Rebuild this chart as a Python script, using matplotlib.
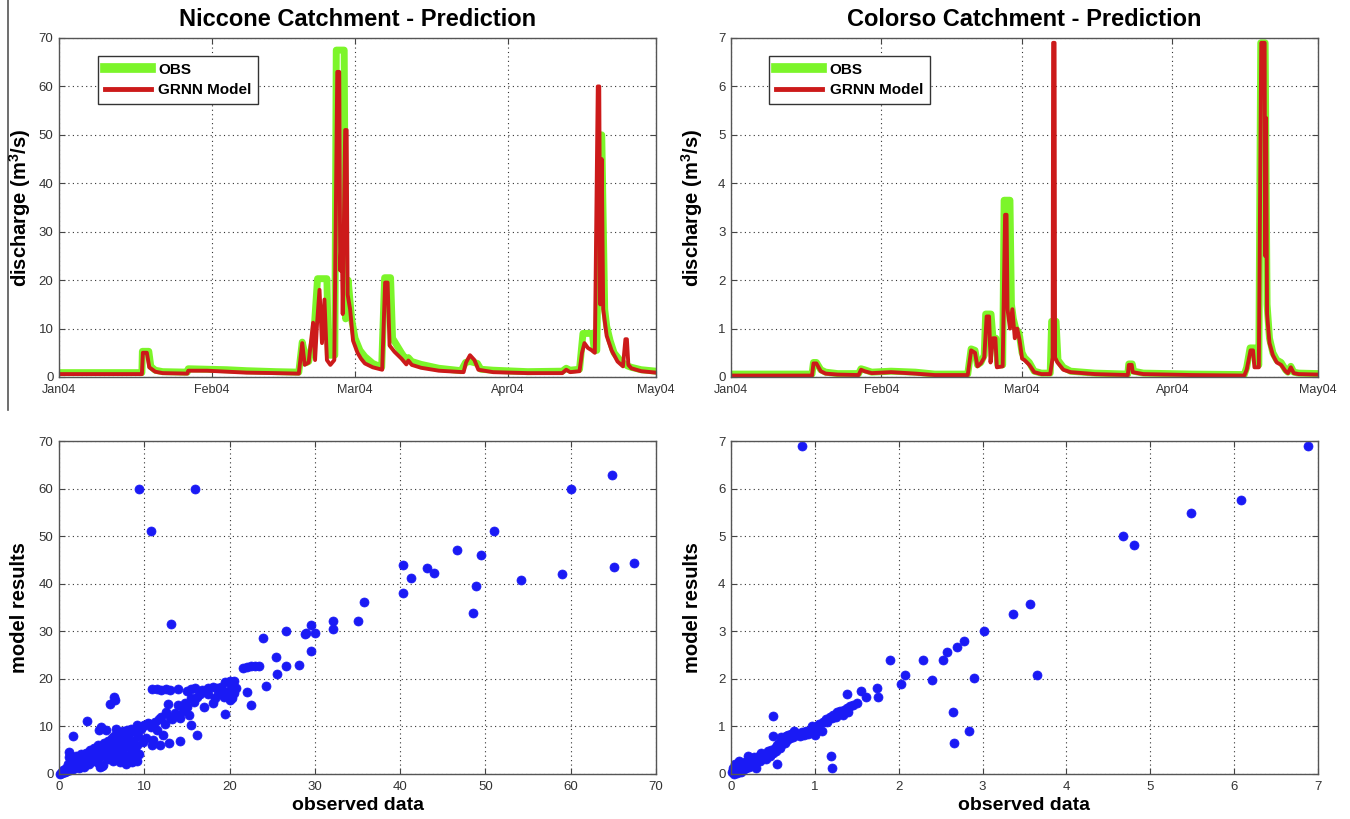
import numpy as np
import matplotlib
matplotlib.use("Agg")
import matplotlib.pyplot as plt
import matplotlib.dates as mdates
from matplotlib.lines import Line2D

plt.rcParams['mathtext.fontset'] = 'custom'
plt.rcParams['mathtext.rm'] = 'Liberation Sans'
plt.rcParams['mathtext.bf'] = 'Liberation Sans:bold'

# ---------------- data ----------------
start_date = '2004-01-01'
month_ticks = ['2004-01-01', '2004-02-01', '2004-03-01', '2004-04-01', '2004-05-01']

# Niccone: day offset from 1 Jan 2004 and discharge (m3/s)
nic_obs_day = [0, 16.8, 16.9, 18.2, 18.6, 19.5, 21, 26.0, 26.2, 30, 34, 38, 44, 48.6, 49.3, 50.2,
               50.6, 51.6, 52.4, 54.3, 54.6, 55.9, 56.2, 57.8, 58.1, 58.6, 59.3, 60, 61, 62, 63.6,
               65.4, 66.0, 67.2, 67.6, 68.5, 69.4, 70.4, 70.8, 71.5, 73.4, 77, 81.5, 82.4, 83.3,
               84.8, 85.5, 88, 95, 102.0, 102.8, 103.6, 105.5, 106.2, 108.1, 108.5, 109.0, 109.6,
               110.0, 110.6, 111.0, 111.7, 112.5, 113.9, 114.8, 115.2, 116, 118, 121]
nic_obs_val = [0.9, 0.9, 5.3, 5.3, 2.2, 1.4, 1.1, 1.0, 1.7, 1.6, 1.5, 1.3, 1.1, 1.0, 7.2, 3.0,
               3.2, 8.0, 20.3, 20.3, 4.5, 4.5, 67.5, 67.5, 12, 20, 12, 8, 5.5, 4.2, 2.8,
               2.0, 20.5, 20.5, 8, 6.5, 5.0, 3.5, 4.0, 3.2, 2.6, 1.8, 1.3, 3.0, 3.2,
               2.8, 1.6, 1.4, 1.1, 1.2, 1.8, 1.4, 1.6, 9.0, 9.0, 5.5, 5.5, 50,
               50, 14, 10.5, 7.5, 5, 3.2, 2.6, 2.3, 2.0, 1.5, 1.2]

nic_mod_day = [0, 16.8, 17.0, 17.8, 18.3, 19.5, 21, 26.0, 26.2, 30, 34, 38, 44, 48.6, 49.3, 49.8,
               50.6, 51.5, 51.9, 52.3, 52.8, 53.3, 53.8, 54.3, 55.0, 55.8, 56.4, 56.8, 57.0, 57.3,
               57.5, 58.0, 58.3, 58.5, 59, 59.6, 60.5, 61.2, 62, 63.6, 65.5, 66.1, 66.6, 67.0, 68,
               69.4, 70.4, 70.8, 71.5, 73.4, 77, 82.0, 82.5, 83.3, 84.2, 85, 88, 95, 102.0, 102.8,
               103.6, 105.5, 106.0, 106.5, 107.2, 108.0, 108.6, 109.2, 109.5, 109.7, 110.0, 110.3,
               111, 112, 113.2, 114.3, 114.8, 115.1, 115.4, 116, 118, 121]
nic_mod_val = [0.6, 0.6, 5.0, 5.0, 2.0, 1.1, 0.8, 0.7, 1.3, 1.3, 1.1, 0.9, 0.8, 0.7, 7.0, 2.5,
               3.0, 11.2, 3.5, 11, 18, 7, 16, 3.5, 2.5, 3.5, 63, 63, 22, 30,
               13, 51, 51, 17, 14, 7.5, 5, 3.8, 2.8, 2.0, 1.5, 19.5, 19.5, 6.5, 5.2,
               3.8, 2.6, 3.4, 2.5, 1.9, 1.3, 1.0, 3.0, 4.5, 3.5, 1.5, 1.0, 0.8, 0.8, 1.5,
               1.0, 1.2, 5.0, 7, 6, 5.5, 5, 60, 60, 15, 45, 14,
               8.5, 5.5, 3.2, 2.2, 7.8, 7.8, 2.5, 1.8, 1.2, 0.9]

# Colorso
col_obs_day = [0, 16.7, 17.0, 17.6, 18.5, 19.5, 22, 26.3, 26.8, 27.5, 29, 33, 38, 42, 48.8, 49.5,
               50.3, 50.8, 51.5, 52.2, 52.5, 53.6, 54.0, 54.6, 55.0, 56.0, 56.3, 57.5, 57.8, 58.2,
               58.7, 59.4, 60.0, 60.5, 61.5, 62.5, 64, 65.8, 66.1, 67.0, 67.4, 68.5, 70, 75, 81.8,
               82.0, 82.7, 83.0, 85, 95, 105.8, 106.3, 107.0, 107.9, 108.2, 108.8, 109.2, 110.1,
               110.5, 111, 111.7, 112.5, 113.4, 114.3, 114.8, 115.4, 116.0, 117, 121]
col_obs_val = [0.06, 0.06, 0.3, 0.3, 0.15, 0.1, 0.07, 0.07, 0.17, 0.15, 0.1, 0.12, 0.1, 0.06, 0.06, 0.58,
               0.55, 0.25, 0.3, 0.45, 1.3, 1.3, 0.8, 0.8, 0.25, 0.25, 3.65, 3.65, 1.5, 1.2,
               1.0, 0.9, 0.5, 0.4, 0.3, 0.12, 0.08, 0.08, 1.15, 1.15, 0.35, 0.2, 0.12, 0.08, 0.06,
               0.27, 0.27, 0.12, 0.08, 0.06, 0.05, 0.2, 0.6, 0.6, 0.3, 0.25, 6.9, 6.9,
               1.5, 0.8, 0.5, 0.35, 0.3, 0.15, 0.1, 0.22, 0.1, 0.08, 0.07]

col_mod_day = [0, 16.7, 17.0, 17.6, 18.5, 19.5, 22, 26.3, 26.8, 27.5, 29, 33, 38, 42, 48.8, 49.5,
               50.3, 50.8, 51.5, 52.2, 52.7, 53.2, 53.5, 54.0, 54.5, 54.8, 56.0, 56.5, 56.8, 57.0,
               57.5, 58.0, 58.5, 59.0, 59.5, 60, 60.5, 61.5, 62.5, 64, 65.8, 66.3, 66.4, 66.7, 66.8,
               67.3, 68.5, 70, 75, 81.8, 82.0, 82.6, 82.8, 85, 95, 105.8, 106.3, 107.1, 107.6,
               107.9, 108.8, 109.3, 110.0, 110.1, 110.3, 110.5, 111, 111.7, 112.5, 113.4, 114.3,
               114.8, 115.4, 116.0, 117, 121]
col_mod_val = [0.03, 0.03, 0.28, 0.28, 0.12, 0.07, 0.05, 0.04, 0.15, 0.12, 0.08, 0.1, 0.07, 0.04, 0.04, 0.55,
               0.5, 0.22, 0.28, 0.4, 1.25, 1.25, 0.3, 0.8, 0.8, 0.2, 0.22, 3.35, 3.35, 1.4,
               1.0, 1.4, 0.8, 1.0, 0.75, 0.38, 0.35, 0.25, 0.1, 0.06, 0.06, 0.4, 6.9, 6.9, 0.4,
               0.3, 0.15, 0.1, 0.06, 0.04, 0.25, 0.25, 0.1, 0.06, 0.04, 0.03, 0.15, 0.55, 0.55,
               0.2, 0.2, 6.9, 6.9, 2.5, 5.35, 1.3, 0.7, 0.45, 0.3, 0.25, 0.12,
               0.08, 0.2, 0.08, 0.06, 0.05]

# Scatter: observed vs model
nic_sc_obs = [0.1, 0.2, 0.3, 0.4, 0.5, 0.6, 0.7, 0.8, 0.9, 1.0, 1.1, 1.2, 1.2, 1.3, 1.4, 1.5, 1.6, 1.7,
              1.8, 2.0, 2.0, 2.2, 2.3, 2.5, 2.6, 2.7, 2.9, 3.0, 3.1, 3.2, 3.4, 3.5, 3.6, 3.8, 3.9,
              4.0, 4.1, 4.2, 4.4, 4.5, 4.6, 4.7, 4.9, 5.0, 5.1, 5.1, 5.3, 5.4, 5.5, 5.6, 5.7, 5.8,
              5.9, 6.0, 6.1, 6.2, 6.3, 6.4, 6.5, 6.6, 6.7, 6.8, 6.9, 7.0, 7.1, 7.2, 7.3, 7.4, 7.5,
              7.5, 7.6, 7.7, 7.8, 7.9, 8.0, 8.0, 8.1, 8.2, 8.3, 8.4, 8.5, 8.5, 8.6, 8.7, 8.8, 8.9,
              9.0, 9.1, 9.2, 9.2, 9.3, 9.4, 9.6, 9.8, 9.8, 10.0, 10.2, 10.4, 10.5, 10.8, 11.0, 11.2,
              11.5, 11.7, 12.0, 12.2, 12.4, 12.6, 12.8, 13.0, 13.3, 13.6, 14.0, 14.2, 14.5, 14.8,
              15.0, 15.3, 15.5, 15.8, 16.2, 16.5, 17.0, 17.5, 18.0, 18.3, 18.6, 19.0, 19.3, 19.7,
              20.0, 20.3, 20.5, 20.7,
              10.9, 11.5, 12.0, 12.5, 13.0, 14.0, 15.0, 15.5, 16.0, 16.8, 17.5, 18.0, 18.5, 19.0,
              19.5, 20.0, 20.5, 19.2, 20.2,
              21.6, 22.0, 22.5, 23.0, 23.5,
              9.4, 16.0, 10.8, 13.1, 60.0, 64.8, 51.0, 46.7, 49.5, 40.3, 43.2, 44.0, 41.3, 40.3,
              48.9, 48.6, 54.2, 59.0, 65.1, 67.4, 35.8, 35.1, 32.1, 32.1, 29.6, 30.0, 29.0, 28.8,
              29.5, 26.6, 23.9, 25.4, 26.6, 28.1, 25.6, 24.3, 22.1, 22.5, 19.5, 16.2, 15.5, 14.2,
              12.9, 11.8, 10.9, 3.3, 1.6, 6.0, 6.4, 6.6, 5.2, 4.8]
nic_sc_mod = [0.1, 0.2, 0.5, 0.3, 0.8, 0.5, 0.4, 1.2, 0.6, 1.0, 2.0, 3.5, 4.6, 0.8, 1.5, 2.5, 1.0, 3.0,
              2.0, 1.4, 3.8, 2.5, 1.2, 3.2, 4.2, 2.0, 1.5, 3.5, 2.6, 4.5, 3.0, 2.0, 5.0, 3.8, 2.8,
              4.6, 5.5, 3.3, 2.5, 4.2, 6.0, 9.3, 9.8, 5.2, 3.8, 1.6, 6.5, 4.6, 9.3, 5.8, 3.2, 7.0,
              5.0, 6.0, 4.2, 7.5, 2.8, 5.5, 8.0, 6.8, 9.5, 4.8, 3.5, 7.2, 6.0, 2.5, 8.5, 5.2, 3.2,
              9.0, 6.5, 4.0, 7.8, 2.2, 5.8, 9.3, 8.3, 3.0, 6.8, 4.5, 8.8, 9.5, 2.5, 7.0, 3.8, 5.5,
              9.0, 2.8, 6.2, 10.2, 8.0, 4.2, 9.5, 6.8, 10.0, 10.2, 7.5, 10.8, 10.5, 9.8, 7.2, 11.0,
              9.2, 11.5, 12.0, 8.2, 10.5, 13.0, 14.8, 12.0, 11.5, 12.8, 14.5, 11.8, 13.2, 15.0,
              14.0, 12.5, 16.0, 15.2, 16.2, 16.8, 14.0, 16.8, 15.0, 16.0, 16.8, 17.0, 16.2, 17.3,
              15.5, 16.0, 17.0, 18.0,
              17.8, 17.9, 17.6, 17.9, 17.7, 17.9, 17.5, 17.8, 18.0, 17.7, 18.1, 18.2, 18.0, 18.3,
              19.3, 19.5, 19.6, 17.5, 18.0,
              22.3, 22.5, 22.6, 22.6, 22.8,
              60.0, 60.0, 51.0, 31.5, 60.0, 62.8, 51.0, 47.0, 46.0, 44.0, 43.3, 42.2, 41.2, 38.1,
              39.5, 33.8, 40.8, 42.1, 43.5, 44.4, 36.1, 32.1, 32.1, 30.4, 31.3, 29.7, 29.7, 29.5,
              25.8, 30.0, 28.5, 24.6, 22.7, 23.0, 21.0, 18.4, 17.3, 14.5, 12.6, 8.3, 10.4, 7.0,
              6.5, 6.2, 6.0, 11.1, 7.9, 14.7, 16.1, 15.5, 1.8, 1.5]

col_sc_obs = [0.01, 0.02, 0.03, 0.05, 0.05, 0.07, 0.08, 0.1, 0.1, 0.12, 0.14, 0.15, 0.17, 0.18, 0.2,
              0.2, 0.22, 0.24, 0.25, 0.27, 0.28, 0.3, 0.3, 0.33, 0.35, 0.36, 0.38, 0.4, 0.42, 0.44,
              0.45, 0.47, 0.48, 0.5, 0.5, 0.52, 0.54, 0.55, 0.57, 0.58, 0.6, 0.6, 0.62, 0.64, 0.65,
              0.67, 0.68, 0.7, 0.72, 0.74, 0.75, 0.77, 0.8, 0.82, 0.85, 0.87, 0.9, 0.92, 0.95, 0.97,
              1.0, 1.0, 1.02, 1.05, 1.08, 1.1, 1.13, 1.15, 1.18, 1.2, 1.22, 1.25, 1.27, 1.3, 1.33,
              1.35, 1.38, 1.4, 1.42, 1.45,
              0.85, 6.88, 6.08, 5.48, 4.68, 4.81, 3.57, 3.36, 3.02, 2.78, 2.69, 2.57, 2.53, 2.29,
              1.9, 2.08, 2.03, 2.4, 2.9, 3.65, 2.65, 2.84, 2.66, 1.19, 1.2, 0.55, 0.5, 1.74, 1.75,
              1.61, 1.55, 1.38, 1.5]
col_sc_mod = [0.05, 0.12, 0.0, 0.08, 0.2, 0.03, 0.15, 0.1, 0.28, 0.05, 0.18, 0.1, 0.25, 0.12, 0.2,
              0.38, 0.15, 0.3, 0.22, 0.35, 0.18, 0.3, 0.12, 0.38, 0.28, 0.45, 0.35, 0.4, 0.32, 0.48,
              0.42, 0.38, 0.5, 0.45, 0.8, 0.55, 0.48, 0.6, 0.65, 0.55, 0.6, 0.78, 0.7, 0.65, 0.8,
              0.72, 0.82, 0.75, 0.85, 0.78, 0.9, 0.82, 0.85, 0.8, 0.88, 0.82, 0.9, 0.85, 0.92, 1.0,
              0.95, 0.82, 1.0, 1.05, 0.9, 1.1, 1.15, 1.1, 1.2, 1.18, 1.25, 1.2, 1.3, 1.32, 1.25,
              1.35, 1.38, 1.3, 1.42, 1.45,
              6.9, 6.9, 5.75, 5.49, 5.0, 4.81, 3.58, 3.36, 3.01, 2.79, 2.67, 2.56, 2.4, 2.4,
              2.39, 2.08, 1.89, 1.97, 2.02, 2.08, 1.3, 0.9, 0.66, 0.37, 0.13, 0.2, 1.21, 1.81, 1.62,
              1.62, 1.74, 1.68, 1.5]

titles = ['Niccone Catchment - Prediction', 'Colorso Catchment - Prediction']
legend_labels = ['OBS', 'GRNN Model']
ts_ylim = [70, 7]

# ---------------- styling ----------------
W, H = 1350, 819
fig = plt.figure(figsize=(W / 100, H / 100), dpi=100)
GREEN = '#7cf52a'
RED = '#cc1a1a'
BLUE = '#1a1af5'
TICKFAM = ['Liberation Sans Narrow', 'Liberation Sans']
BOLD = dict(family=['Liberation Sans', 'DejaVu Sans'], weight='bold')


def box(x0, y0, x1, y1):
    return [x0 / W, 1 - y1 / H, (x1 - x0) / W, (y1 - y0) / H]


def style(ax, xsize=9.5):
    ax.tick_params(direction='in', top=True, right=True, length=4, width=0.8, colors='#444444',
                   labelcolor='#333333')
    ax.tick_params(axis='x', pad=5)
    ax.tick_params(axis='y', pad=4)
    for sp in ax.spines.values():
        sp.set_color('#555555')
        sp.set_linewidth(1.0)
    ax.grid(True, linestyle=(0, (1, 3)), color='#333333', linewidth=0.8)
    for lab in ax.get_yticklabels():
        lab.set_fontfamily(TICKFAM)
        lab.set_fontsize(9.5)
    for lab in ax.get_xticklabels():
        lab.set_fontfamily(TICKFAM)
        lab.set_fontsize(xsize)


def to_dates(days):
    base = np.datetime64(start_date + 'T00:00')
    return base + (np.array(days) * 24 * 60).round().astype('timedelta64[m]')


top_boxes = [box(59, 38, 656, 377), box(731, 38, 1318, 377)]
bot_boxes = [box(59, 441, 656, 774), box(731, 441, 1318, 774)]
ts_sets = [(nic_obs_day, nic_obs_val, nic_mod_day, nic_mod_val),
           (col_obs_day, col_obs_val, col_mod_day, col_mod_val)]
sc_sets = [(nic_sc_obs, nic_sc_mod), (col_sc_obs, col_sc_mod)]
fmt = matplotlib.ticker.FuncFormatter(lambda v, p: '%g' % v)

for i in range(2):
    ax = fig.add_axes(top_boxes[i])
    od, ov, md, mv = ts_sets[i]
    ax.plot(to_dates(od), ov, color=GREEN, lw=5.0, label=legend_labels[0])
    ax.plot(to_dates(md), mv, color=RED, lw=2.8, label=legend_labels[1])
    ax.set_xlim(np.datetime64(month_ticks[0]), np.datetime64(month_ticks[-1]))
    ax.set_ylim(0, ts_ylim[i])
    ax.set_xticks([np.datetime64(m) for m in month_ticks])
    ax.xaxis.set_major_formatter(mdates.DateFormatter('%b%y'))
    ax.set_yticks(np.linspace(0, ts_ylim[i], 8))
    ax.yaxis.set_major_formatter(fmt)
    style(ax, xsize=9)
    leg = ax.legend(loc='upper left', bbox_to_anchor=(0.065, 0.948), frameon=True, fancybox=False,
                    edgecolor='#333333', framealpha=1, borderpad=0.45, handlelength=3.0,
                    handletextpad=0.5, labelspacing=0.45, borderaxespad=0,
                    prop=dict(family='Liberation Sans', weight='bold', size=11))
    leg.get_frame().set_linewidth(1.0)
    leg.get_lines()[0].set_linewidth(7)
    leg.get_lines()[1].set_linewidth(3.5)
    cx = (top_boxes[i][0] + top_boxes[i][2] / 2)
    fig.text(cx, 1 - 19 / H, titles[i], ha='center', va='center', fontsize=17, **BOLD)
    fig.text(top_boxes[i][0] - 39 / W, top_boxes[i][1] + top_boxes[i][3] / 2,
             r'discharge (m$^{\mathbf{3}}$/s)', rotation=90, ha='center', va='center',
             fontsize=14.5, **BOLD)

for i in range(2):
    ax = fig.add_axes(bot_boxes[i])
    xo, ym = sc_sets[i]
    ax.plot(xo, ym, 'o', color=BLUE, ms=6.5, mec=BLUE, mew=0.5, clip_on=False)
    lim = ts_ylim[i]
    ax.set_xlim(0, lim)
    ax.set_ylim(0, lim)
    ax.set_xticks(np.linspace(0, lim, 8))
    ax.set_yticks(np.linspace(0, lim, 8))
    ax.xaxis.set_major_formatter(fmt)
    ax.yaxis.set_major_formatter(fmt)
    style(ax)
    cx = bot_boxes[i][0] + bot_boxes[i][2] / 2
    fig.text(cx, 1 - 806 / H, 'observed data', ha='center', va='center', fontsize=14, **BOLD)
    fig.text(bot_boxes[i][0] - 39 / W, bot_boxes[i][1] + bot_boxes[i][3] / 2, 'model results',
             rotation=90, ha='center', va='center', fontsize=14.5, **BOLD)

fig.add_artist(Line2D([8 / W, 8 / W], [1, 1 - 410 / H], color='#555555', lw=1.2))

fig.savefig('out.png', dpi=100)
